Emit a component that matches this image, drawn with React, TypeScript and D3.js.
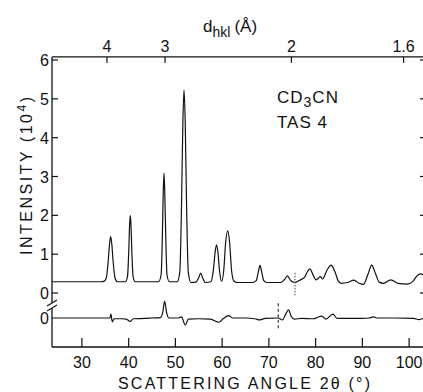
import * as d3 from "d3";

// observed profile, upper panel: [2θ (°), intensity (10^4)]
const observed: [number, number][] = [
  [23.6, 0.29], [30, 0.29], [34.0, 0.29], [34.7, 0.3], [35.2, 0.38], [35.6, 0.78], [35.9, 1.25], [36.15, 1.45],
  [36.4, 1.25], [36.7, 0.78], [37.1, 0.38], [37.6, 0.29],
  [39.3, 0.29], [39.75, 0.42], [40.0, 1.0], [40.2, 1.75], [40.35, 2.0], [40.5, 1.75], [40.7, 1.0], [40.95, 0.42], [41.4, 0.29],
  [46.4, 0.29], [46.95, 0.47], [47.2, 1.4], [47.4, 2.6], [47.56, 3.09], [47.72, 2.6], [47.95, 1.4], [48.2, 0.47], [48.7, 0.29],
  [50.4, 0.29], [50.95, 0.55], [51.3, 2.2], [51.6, 4.4], [51.84, 5.23], [52.1, 4.4], [52.4, 2.2], [52.75, 0.55], [53.3, 0.27],
  [54.4, 0.28], [55.0, 0.4], [55.4, 0.51], [55.8, 0.4], [56.4, 0.27],
  [57.6, 0.29], [58.15, 0.62], [58.5, 1.05], [58.8, 1.24], [59.1, 1.05], [59.4, 0.62], [59.9, 0.3],
  [60.35, 0.6], [60.75, 1.3], [61.2, 1.6], [61.6, 1.3], [62.0, 0.6], [62.5, 0.31], [63.2, 0.27],
  [66.5, 0.27], [67.3, 0.32], [67.7, 0.52], [68.1, 0.71], [68.5, 0.52], [68.9, 0.32], [69.6, 0.27],
  [72.5, 0.27], [73.3, 0.34], [74.0, 0.44], [74.6, 0.33], [75.5, 0.27], [76.6, 0.33], [77.6, 0.4],
  [78.3, 0.56], [78.8, 0.62], [79.4, 0.48], [80.1, 0.34], [81.0, 0.42], [81.5, 0.36], [82.4, 0.58],
  [83.3, 0.72], [84.1, 0.56], [84.8, 0.32], [85.5, 0.25], [86.8, 0.27], [88.2, 0.33], [89.3, 0.25],
  [90.2, 0.22], [91.2, 0.48], [92.0, 0.72], [92.8, 0.5], [93.6, 0.28], [94.5, 0.25], [96.1, 0.34],
  [97.6, 0.25], [99.6, 0.23], [100.8, 0.3], [101.7, 0.44], [102.4, 0.49], [103.4, 0.45],
];

// difference curve, lower panel
const difference: [number, number][] = [
  [23.6, 0], [36.0, 0], [36.2, 0.1], [36.5, -0.1], [36.9, -0.02], [38.5, -0.02], [39.5, -0.03], [40.3, -0.09],
  [41.0, -0.02], [43.5, -0.01], [45.0, 0], [46.8, 0.01], [47.3, 0.15], [47.7, 0.44], [48.1, 0.15], [48.6, 0],
  [50.5, 0], [51.3, 0.03], [52.1, -0.18], [52.8, -0.03], [55.0, -0.02], [57.5, -0.03], [59.3, -0.11],
  [60.2, -0.02], [61.4, 0.06], [62.3, 0], [65, 0], [67.0, -0.02], [68.1, -0.05], [69.2, -0.01], [72.0, 0],
  [72.9, -0.05], [73.6, 0.1], [74.2, 0.21], [74.8, 0.04], [75.5, -0.03], [77, -0.01], [79.5, -0.02],
  [80.5, 0.02], [81.3, 0.05], [82.2, -0.03], [83.7, 0.1], [84.6, -0.01], [86, -0.01], [90, -0.01],
  [91.5, 0], [92.4, 0.03], [93.2, 0], [97, 0], [101, -0.01], [102.1, -0.04], [103.4, 0],
];

const xTicks = [30, 40, 50, 60, 70, 80, 90, 100];
const yTicks = [0, 1, 2, 3, 4, 5, 6];
const dTicks = [4, 3, 2, 1.6];
const wavelength = 2.43; // Å
const diffMarker = 72;   // dashed line, lower panel
const obsMarker = 75.6;  // dotted line, upper panel

const FONT = "'Liberation Sans', Arial, sans-serif";
const INK = "#111";

export default function App() {
  const W = 423, H = 392;
  const x = d3.scaleLinear().domain([23.6, 103.4]).range([52, 425]);
  const y = d3.scaleLinear().domain([0, 6]).range([293, 60]);
  const yd = d3.scaleLinear().domain([-0.75, 0]).range([347, 318]);

  const left = x.range()[0], right = x.range()[1];
  const top = y(6.08), bottom = yd(-0.75);

  const lineObs = d3.line<[number, number]>().x(d => x(d[0])).y(d => y(d[1])).curve(d3.curveMonotoneX);
  const lineDiff = d3.line<[number, number]>().x(d => x(d[0])).y(d => yd(d[1])).curve(d3.curveMonotoneX);

  const dToTwoTheta = (d: number) => (2 * Math.asin(wavelength / (2 * d)) * 180) / Math.PI;

  return (
    <svg width={W} height={H} style={{ position: "absolute", left: 0, top: 0, background: "#fff" }}
      fontFamily={FONT} fill={INK}>
      {/* frame */}
      <g stroke={INK} strokeWidth={1.3} fill="none">
        <line x1={left} x2={left} y1={top} y2={bottom} />
        <line x1={left} x2={right} y1={top} y2={top} />
        <line x1={left} x2={right} y1={bottom} y2={bottom} />
        <line x1={right} x2={right} y1={top} y2={bottom} />
      </g>

      {/* axis break on the left axis */}
      <rect x={left - 2} y={303} width={4} height={5} fill="#fff" />
      <g stroke={INK} strokeWidth={1.1}>
        <line x1={left - 5} y1={306} x2={left + 5} y2={300} />
        <line x1={left - 5} y1={311} x2={left + 5} y2={305} />
      </g>

      {/* bottom ticks */}
      {xTicks.map(t => (
        <g key={t}>
          <line x1={x(t)} x2={x(t)} y1={bottom} y2={bottom - 9} stroke={INK} strokeWidth={1.2} />
          <text x={x(t)} y={368} fontSize={16} textAnchor="middle">{t}</text>
        </g>
      ))}

      {/* left ticks */}
      {yTicks.map(t => (
        <g key={t}>
          <line x1={left} x2={left + 6} y1={y(t)} y2={y(t)} stroke={INK} strokeWidth={1.2} />
          <line x1={right} x2={right - 5} y1={y(t)} y2={y(t)} stroke={INK} strokeWidth={1.2} />
          <text x={49} y={y(t) + 6} fontSize={16} textAnchor="end">{t}</text>
        </g>
      ))}
      <text x={49} y={yd(0) + 6} fontSize={16} textAnchor="end">0</text>

      {/* top d-spacing ticks */}
      {dTicks.map(d => {
        const px = x(dToTwoTheta(d));
        return (
          <g key={d}>
            <line x1={px} x2={px} y1={top} y2={top + 6} stroke={INK} strokeWidth={1.2} />
            <text x={px} y={52} fontSize={16} textAnchor="middle">{d}</text>
          </g>
        );
      })}

      {/* curves */}
      <path d={lineObs(observed) ?? ""} fill="none" stroke={INK} strokeWidth={1.2} />
      <path d={lineDiff(difference) ?? ""} fill="none" stroke={INK} strokeWidth={1.2} />

      {/* markers */}
      <line x1={x(diffMarker)} x2={x(diffMarker)} y1={yd(0.38)} y2={yd(-0.32)}
        stroke={INK} strokeWidth={1} strokeDasharray="3,2.5" />
      <line x1={x(obsMarker)} x2={x(obsMarker)} y1={y(0.52)} y2={y(-0.1)}
        stroke="#444" strokeWidth={1} strokeDasharray="1.5,1.5" />

      {/* labels */}
      <text x={203} y={32} fontSize={17}>
        d<tspan fontSize={14} dy={5}>hkl</tspan>
        <tspan dy={-5} dx={4}>(Å)</tspan>
      </text>
      <text x={277} y={103} fontSize={17} letterSpacing={1}>
        CD<tspan fontSize={14} dy={4}>3</tspan><tspan dy={-4}>CN</tspan>
      </text>
      <text x={277} y={128} fontSize={17} letterSpacing={1}>TAS 4</text>

      <text x={118} y={389} fontSize={16} textLength={252} lengthAdjust="spacing">
        SCATTERING ANGLE 2θ (°)
      </text>
      <text transform="translate(32,255) rotate(-90)" fontSize={16} textLength={158} lengthAdjust="spacing">
        INTENSITY (10<tspan fontSize={12} dy={-6}>4</tspan><tspan dy={6}>)</tspan>
      </text>
    </svg>
  );
}
